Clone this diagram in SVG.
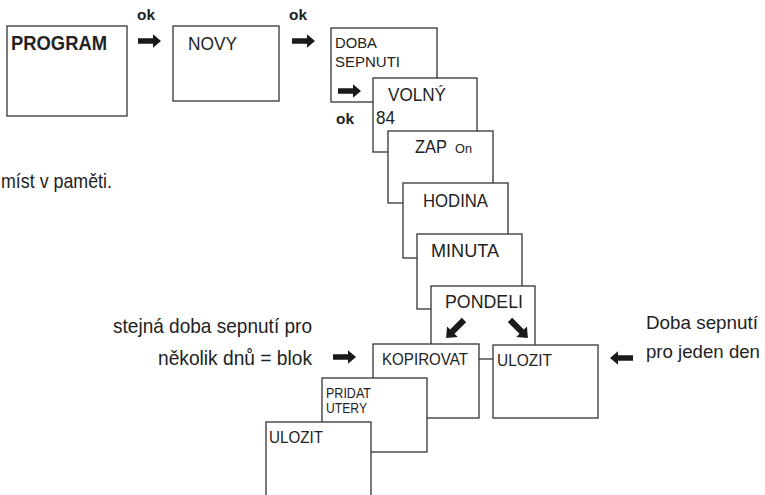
<svg xmlns="http://www.w3.org/2000/svg" width="765" height="495" viewBox="0 0 765 495">
<style>
.box{fill:#fff;stroke:#333;stroke-width:1.3}
.t{font-family:"Liberation Sans",Arial,sans-serif;fill:#222}
.b{font-weight:bold}
</style>
<defs>
<path id="arr" d="M0,-2.8 H15 V-6.8 L23,0 L15,6.8 V2.8 H0 Z" fill="#1a1a1a"/>
</defs>
<rect width="765" height="495" fill="#fff"/>

<g id="program"><rect class="box" x="7" y="26" width="120" height="90"/><text class="t b" x="11" y="50" font-size="20" textLength="96" lengthAdjust="spacingAndGlyphs">PROGRAM</text></g>
<g id="novy"><rect class="box" x="173" y="26" width="106" height="75"/><text class="t" x="188" y="50" font-size="18" textLength="49" lengthAdjust="spacingAndGlyphs">NOVY</text></g>
<g id="doba"><rect class="box" x="331" y="28" width="106" height="74"/><text class="t" x="335" y="48" font-size="15" textLength="42" lengthAdjust="spacingAndGlyphs">DOBA</text><text class="t" x="335" y="67" font-size="15" textLength="65" lengthAdjust="spacingAndGlyphs">SEPNUTI</text></g>
<g id="volny"><rect class="box" x="373" y="78" width="104" height="74"/><text class="t" x="388" y="101" font-size="17.5" textLength="58" lengthAdjust="spacingAndGlyphs">VOLNÝ</text><text class="t" x="376" y="124" font-size="17.5" textLength="19" lengthAdjust="spacingAndGlyphs">84</text></g>
<g id="zap"><rect class="box" x="388" y="131" width="105" height="72"/><text class="t" x="415" y="153" font-size="17.5" textLength="32" lengthAdjust="spacingAndGlyphs">ZAP</text><text class="t" x="455" y="153" font-size="12" textLength="17" lengthAdjust="spacingAndGlyphs">On</text></g>
<g id="hodina"><rect class="box" x="403" y="183" width="105" height="75"/><text class="t" x="423" y="207" font-size="18" textLength="65" lengthAdjust="spacingAndGlyphs">HODINA</text></g>
<g id="minuta"><rect class="box" x="417" y="234" width="105" height="75"/><text class="t" x="431" y="257" font-size="18" textLength="68" lengthAdjust="spacingAndGlyphs">MINUTA</text></g>
<g id="pondeli"><rect class="box" x="431" y="286" width="104" height="73"/><text class="t" x="445" y="308" font-size="18" textLength="78" lengthAdjust="spacingAndGlyphs">PONDELI</text></g>
<g id="kopirovat"><rect class="box" x="373" y="344" width="106" height="74"/><text class="t" x="382" y="365" font-size="16.5" textLength="86" lengthAdjust="spacingAndGlyphs">KOPIROVAT</text></g>
<g id="ulozit1"><rect class="box" x="493" y="345" width="105" height="73"/><text class="t" x="497" y="366" font-size="17" textLength="55" lengthAdjust="spacingAndGlyphs">ULOZIT</text></g>
<g id="pridat"><rect class="box" x="322" y="378" width="105" height="74"/><text class="t" x="326" y="398" font-size="14" textLength="45" lengthAdjust="spacingAndGlyphs">PRIDAT</text><text class="t" x="326" y="413" font-size="14" textLength="41" lengthAdjust="spacingAndGlyphs">UTERY</text></g>
<g id="ulozit2"><rect class="box" x="266" y="422" width="105" height="80"/><text class="t" x="269" y="443" font-size="17" textLength="54" lengthAdjust="spacingAndGlyphs">ULOZIT</text></g>

<g id="connectors">
<use href="#arr" x="138" y="41"/>
<use href="#arr" x="292" y="41"/>
<use href="#arr" x="338" y="91"/>
<use href="#arr" transform="translate(333,357)"/>
<use href="#arr" transform="translate(633,358) rotate(180)"/>
<use href="#arr" transform="translate(464,320) rotate(135) scale(1.1)"/>
<use href="#arr" transform="translate(510,320) rotate(45) scale(1.1)"/>
</g>

<g id="labels">
<text class="t b" x="137" y="20" font-size="15" textLength="18" lengthAdjust="spacingAndGlyphs">ok</text>
<text class="t b" x="289" y="20" font-size="15" textLength="18" lengthAdjust="spacingAndGlyphs">ok</text>
<text class="t b" x="336" y="124" font-size="15" textLength="18" lengthAdjust="spacingAndGlyphs">ok</text>
<text class="t" x="1" y="188" font-size="21" textLength="111" lengthAdjust="spacingAndGlyphs">míst v paměti.</text>
<text class="t" x="113" y="333" font-size="21" textLength="199" lengthAdjust="spacingAndGlyphs">stejná doba sepnutí pro</text>
<text class="t" x="158" y="365" font-size="21" textLength="154" lengthAdjust="spacingAndGlyphs">několik dnů = blok</text>
<text class="t" x="646" y="329" font-size="19" textLength="112" lengthAdjust="spacingAndGlyphs">Doba sepnutí</text>
<text class="t" x="646" y="358" font-size="19" textLength="114" lengthAdjust="spacingAndGlyphs">pro jeden den</text>
</g>
</svg>
